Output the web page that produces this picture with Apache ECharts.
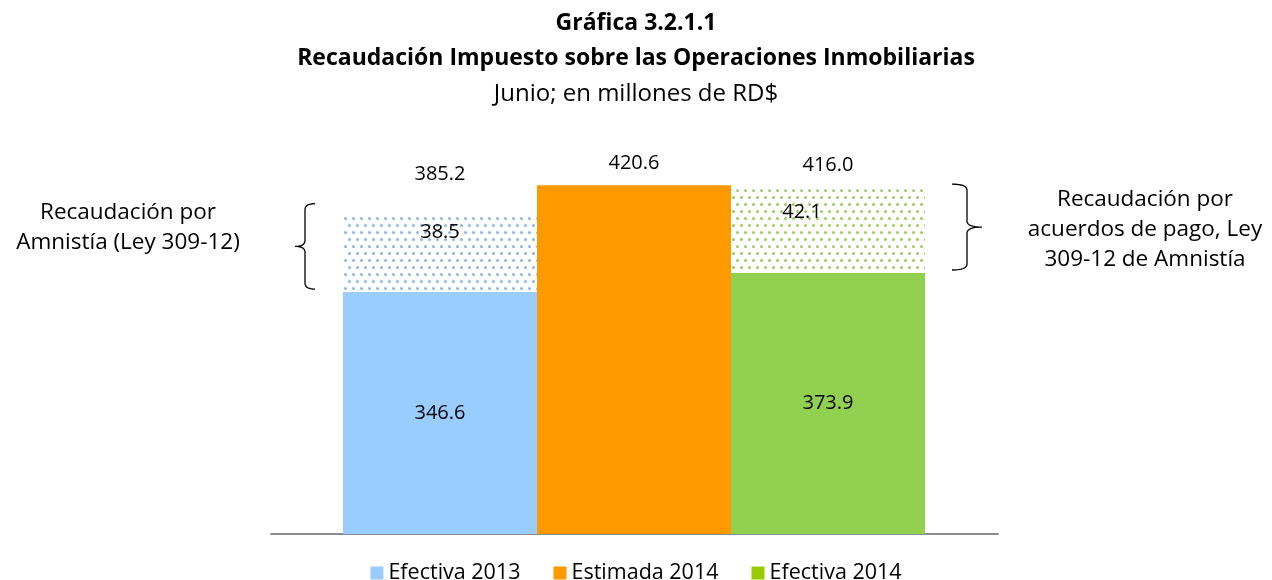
<!DOCTYPE html>
<html>
<head>
<meta charset="utf-8">
<script src="https://cdn.jsdelivr.net/npm/echarts@6/dist/echarts.min.js"></script>
<style>
  html, body { margin: 0; padding: 0; background: #fff; }
  #chart { width: 1272px; height: 580px; }
</style>
</head>
<body>
<div id="chart"></div>
<script>
// datos de la gráfica (millones de RD$)
var categorias = ['Efectiva 2013', 'Estimada 2014', 'Efectiva 2014'];
var efectiva2013 = [346.6, '-', '-'];
var estimada2014 = ['-', 420.6, '-'];
var efectiva2014 = ['-', '-', 373.9];
var totalConAmnistia = [385.2, '-', 416.0];
var amnistia = [38.5, '-', 42.1];

var FONT = '"Open Sans"';
var AZUL = '#99CCFF', NARANJA = '#FF9900', VERDE = '#92D050';

var myChart = echarts.init(document.getElementById('chart'));

// distancias de las etiquetas, como en la gráfica original
var distTotal = [30, 0, 14];
var distAmn = [8, 0, 13];
var offAmn = [[0, 0], [0, 0], [-26, 0]];

function puntos(decalColor) {
  return {
    color: '#ffffff',
    decal: {
      symbol: 'circle',
      symbolSize: 1,
      color: decalColor,
      dashArrayX: [[2.5, 4.5], [0, 3.5, 2.5, 1]],
      dashArrayY: [2.5, 4]
    }
  };
}

var totalData = totalConAmnistia.map(function (v, i) {
  if (v === '-') return '-';
  return {
    value: v,
    itemStyle: puntos(i === 0 ? '#8ab6ea' : '#9ccb5e'),
    label: { distance: distTotal[i] }
  };
});

var amnData = totalConAmnistia.map(function (v, i) {
  if (v === '-') return '-';
  return { value: v, label: { distance: distAmn[i], offset: offAmn[i] } };
});

var etiqueta = { fontFamily: FONT, fontSize: 20, color: '#000' };
var fmt = function (p) { return p.value.toFixed(1); };

myChart.setOption({
  animation: false,
  title: [
    { text: 'Gráfica 3.2.1.1', left: 'center', top: 7,
      textStyle: { fontFamily: FONT, fontSize: 23, fontWeight: 'bold', color: '#000' } },
    { text: 'Recaudación Impuesto sobre las Operaciones Inmobiliarias', left: 'center', top: 42,
      textStyle: { fontFamily: FONT, fontSize: 23, fontWeight: 'bold', color: '#000' } },
    { text: 'Junio; en millones de RD$', left: 'center', top: 77,
      textStyle: { fontFamily: FONT, fontSize: 24, fontWeight: 'normal', color: '#000' } }
  ],
  legend: {
    top: 557,
    left: 'center',
    icon: 'rect',
    itemWidth: 13,
    itemHeight: 13,
    itemGap: 33,
    textStyle: { fontFamily: FONT, fontSize: 21.5, color: '#000' },
    data: [
      { name: 'Efectiva 2013', itemStyle: { color: AZUL } },
      { name: 'Estimada 2014', itemStyle: { color: NARANJA } },
      { name: 'Efectiva 2014', itemStyle: { color: '#99CC00' } }
    ]
  },
  grid: [
    { left: 343, right: 347, top: 185, bottom: 46 },
    { left: 271, right: 274, top: 185, bottom: 46 }
  ],
  xAxis: [
    { type: 'category', gridIndex: 0, data: categorias, show: false },
    { type: 'category', gridIndex: 0, data: categorias, show: false },
    { type: 'value', gridIndex: 1, min: 0, max: 1,
      axisLine: { show: true, onZero: false, lineStyle: { color: '#8c8c8c', width: 2 } },
      axisTick: { show: false }, axisLabel: { show: false }, splitLine: { show: false } }
  ],
  yAxis: [
    { type: 'value', gridIndex: 0, min: 0, max: 500, show: false },
    { type: 'value', gridIndex: 0, min: 0, max: 421, show: false },
    { type: 'value', gridIndex: 1, min: 0, max: 1, show: false }
  ],
  series: [
    {
      name: 'Total con amnistía', type: 'bar', xAxisIndex: 1, yAxisIndex: 1,
      barCategoryGap: '0%', barGap: '-100%',
      data: totalData,
      label: { show: true, position: 'top', formatter: fmt },
      silent: true
    },
    {
      name: 'Estimada 2014', type: 'bar', xAxisIndex: 1, yAxisIndex: 1,
      barCategoryGap: '0%', barGap: '-100%',
      itemStyle: { color: NARANJA },
      data: estimada2014,
      label: { show: true, position: 'top', distance: 12, formatter: fmt }
    },
    {
      name: 'Efectiva 2013', type: 'bar', xAxisIndex: 0, yAxisIndex: 0,
      barCategoryGap: '0%', barGap: '-100%',
      itemStyle: { color: AZUL },
      data: efectiva2013,
      label: { show: true, position: 'inside', formatter: fmt }
    },
    {
      name: 'Efectiva 2014', type: 'bar', xAxisIndex: 0, yAxisIndex: 0,
      barCategoryGap: '0%', barGap: '-100%',
      itemStyle: { color: VERDE },
      data: efectiva2014,
      label: { show: true, position: 'inside', formatter: fmt }
    },
    {
      name: 'Amnistía', type: 'bar', xAxisIndex: 1, yAxisIndex: 1,
      barCategoryGap: '0%', barGap: '-100%',
      itemStyle: { color: 'rgba(0,0,0,0)' },
      data: amnData,
      label: { show: true, position: 'insideTop',
        formatter: function (p) { return amnistia[p.dataIndex].toFixed(1); } },
      silent: true
    }
  ].map(function (s) {
    s.label = Object.assign({}, etiqueta, s.label);
    return s;
  })
});

// llaves y textos al costado de las barras de amnistía
function curva(pts, a, c, b) {
  for (var t = 1; t <= 8; t++) {
    var u = t / 8;
    pts.push([
      (1 - u) * (1 - u) * a[0] + 2 * (1 - u) * u * c[0] + u * u * b[0],
      (1 - u) * (1 - u) * a[1] + 2 * (1 - u) * u * c[1] + u * u * b[1]
    ]);
  }
}

function llave(xFin, xPunta, yArriba, yAbajo) {
  var xv = (xFin + xPunta) / 2;
  var ym = (yArriba + yAbajo) / 2;
  var r = 6;
  var pts = [[xFin, yArriba]];
  curva(pts, [xFin, yArriba], [xv, yArriba], [xv, yArriba + r]);
  pts.push([xv, ym - r]);
  curva(pts, [xv, ym - r], [xv, ym], [xPunta, ym]);
  curva(pts, [xPunta, ym], [xv, ym], [xv, ym + r]);
  pts.push([xv, yAbajo - r]);
  curva(pts, [xv, yAbajo - r], [xv, yAbajo], [xFin, yAbajo]);
  return pts;
}

var p0 = myChart.convertToPixel({ xAxisIndex: 1, yAxisIndex: 1 }, [0, totalConAmnistia[0]]);
var b0 = myChart.convertToPixel({ xAxisIndex: 0, yAxisIndex: 0 }, [0, efectiva2013[0]]);
var p2 = myChart.convertToPixel({ xAxisIndex: 1, yAxisIndex: 1 }, [2, totalConAmnistia[2]]);
var b2 = myChart.convertToPixel({ xAxisIndex: 0, yAxisIndex: 0 }, [2, efectiva2014[2]]);
var mitad = (myChart.convertToPixel({ xAxisIndex: 0 }, 1) - myChart.convertToPixel({ xAxisIndex: 0 }, 0)) / 2;

var izq = p0[0] - mitad;
var der = p2[0] + mitad;
var txt = { font: '22.5px ' + FONT, fill: '#000', textAlign: 'center', textVerticalAlign: 'middle',
  align: 'center', verticalAlign: 'middle', lineHeight: 30 };

myChart.setOption({
  graphic: [
    { type: 'polyline', shape: { points: llave(izq - 28, izq - 48, p0[1] - 11, b0[1] - 3) },
      style: { stroke: '#000', lineWidth: 1.3, fill: null } },
    { type: 'polyline', shape: { points: llave(der + 27, der + 57, p2[1] - 5, b2[1] - 3) },
      style: { stroke: '#000', lineWidth: 1.3, fill: null } },
    { type: 'text', x: 128, y: 228,
      style: Object.assign({ text: 'Recaudación por\nAmnistía (Ley 309-12)' }, txt) },
    { type: 'text', x: 1145, y: 230,
      style: Object.assign({ text: 'Recaudación por\nacuerdos de pago, Ley\n309-12 de Amnistía' }, txt) }
  ]
});
</script>
</body>
</html>
